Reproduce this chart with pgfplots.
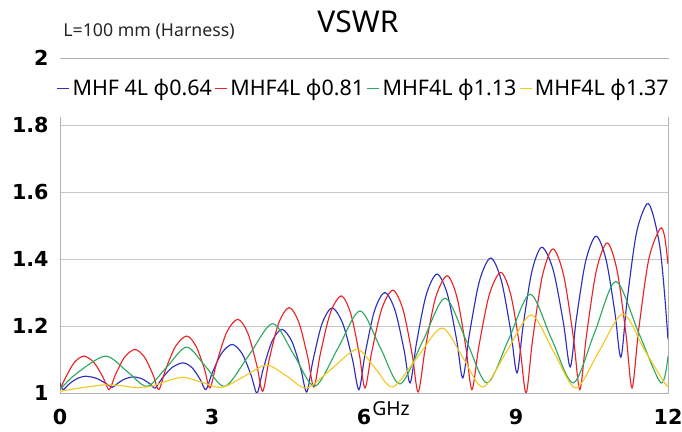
\documentclass[border=0pt]{standalone}
\usepackage{fontspec}
\setmainfont{Noto Sans}
\newfontfamily\tickfont{DejaVu Sans}
\usepackage{pgfplots}
\pgfplotsset{compat=1.18}

\definecolor{cblue}{RGB}{45,45,190}
\definecolor{cred}{RGB}{235,35,40}
\definecolor{cgreen}{RGB}{45,170,95}
\definecolor{cyellow}{RGB}{245,200,35}

\begin{document}
\begin{tikzpicture}
\path[use as bounding box] (0,0) rectangle (511.5pt,324pt);
\begin{axis}[
  at={(45pt,29.25pt)}, anchor=south west,
  scale only axis, width=456pt, height=251.25pt,
  xmin=0, xmax=12, ymin=1, ymax=2,
  xtick={0,3,6,9,12}, ytick={1,1.2,1.4,1.6,1.8,2},
  major tick length=0pt,
  ymajorgrids, grid style={gray!45, line width=0.6pt},
  axis line style={gray!60, line width=0.6pt},
  ticklabel style={font=\tickfont\bfseries\fontsize{15.5}{16}\selectfont, text=black},
  /pgf/number format/assume math mode=true,
  xticklabel style={yshift=-8.5pt},
  yticklabel style={xshift=-5pt},
  legend columns=-1,
  legend style={at={(-0.008,0.91)}, anchor=west, draw=none, fill=white,
    font=\fontsize{16.1}{16.5}\selectfont, inner ysep=13pt, inner xsep=1pt},
  legend image code/.code={\draw[#1] (0pt,0pt) -- (9pt,0pt);},
  every axis plot/.append style={line width=0.85pt, smooth},
]
\addplot[cblue] coordinates {
(0.0,1.03) (0.06,1.01) (0.166,1.025) (0.324,1.042) (0.5,1.05) (0.712,1.044) (0.903,1.029)
(1.03,1.017) (1.131,1.028) (1.282,1.042) (1.45,1.048) (1.622,1.042) (1.777,1.027)
(1.88,1.015) (2.012,1.043) (2.21,1.076) (2.43,1.09) (2.61,1.075) (2.772,1.039)
(2.88,1.01) (3.005,1.06) (3.192,1.119) (3.4,1.145) (3.596,1.117) (3.772,1.053)
(3.89,1.0) (4.008,1.07) (4.184,1.154) (4.38,1.19) (4.576,1.154) (4.752,1.072)
(4.87,1.003) (4.99,1.095) (5.17,1.206) (5.37,1.254) (5.582,1.207) (5.773,1.1)
(5.9,1.01) (6.022,1.117) (6.206,1.245) (6.41,1.3) (6.61,1.248) (6.79,1.129)
(6.91,1.03) (7.037,1.15) (7.228,1.293) (7.44,1.355) (7.644,1.296) (7.828,1.159)
(7.95,1.045) (8.082,1.177) (8.28,1.335) (8.5,1.403) (8.708,1.337) (8.895,1.186)
(9.02,1.06) (9.138,1.198) (9.314,1.363) (9.51,1.435) (9.734,1.367) (9.936,1.209)
(10.07,1.078) (10.192,1.222) (10.376,1.394) (10.58,1.468) (10.776,1.399) (10.952,1.24)
(11.07,1.107) (11.192,1.275) (11.376,1.477) (11.58,1.564) (11.7,1.535) (11.84,1.436) (11.93,1.3) (12.0,1.16)
};
\addlegendentry{MHF 4L φ0.64}
\addplot[cred] coordinates {
(0.0,1.01) (0.113,1.047) (0.282,1.091) (0.47,1.11) (0.67,1.091) (0.85,1.047)
(0.97,1.01) (1.092,1.054) (1.276,1.107) (1.48,1.13) (1.668,1.107) (1.837,1.054)
(1.95,1.01) (2.082,1.069) (2.28,1.139) (2.5,1.17) (2.684,1.14) (2.85,1.072)
(2.96,1.015) (3.092,1.09) (3.29,1.181) (3.51,1.22) (3.706,1.179) (3.882,1.084)
(4.0,1.005) (4.125,1.097) (4.312,1.207) (4.52,1.255) (4.716,1.21) (4.892,1.105)
(5.01,1.018) (5.14,1.118) (5.334,1.238) (5.55,1.29) (5.738,1.237) (5.907,1.116)
(6.02,1.015) (6.152,1.122) (6.35,1.251) (6.57,1.307) (6.77,1.249) (6.95,1.115)
(7.07,1.003) (7.207,1.131) (7.412,1.284) (7.64,1.35) (7.836,1.285) (8.012,1.135)
(8.13,1.01) (8.267,1.139) (8.472,1.293) (8.7,1.36) (8.9,1.291) (9.08,1.132)
(9.2,1.0) (9.327,1.158) (9.518,1.348) (9.73,1.43) (9.942,1.35) (10.133,1.165)
(10.26,1.01) (10.39,1.171) (10.584,1.364) (10.8,1.448) (10.996,1.365) (11.172,1.174)
(11.29,1.015) (11.422,1.19) (11.62,1.399) (11.84,1.49) (11.93,1.47) (12.0,1.385)
};
\addlegendentry{MHF4L φ0.81}
\addplot[cgreen] coordinates {
(0,1.01) (0.3,1.055) (0.89,1.11) (1.32,1.065) (1.72,1.02) (2.11,1.078) (2.5,1.137)
(2.88,1.078) (3.26,1.02) (3.73,1.113) (4.2,1.207) (4.62,1.113) (5.03,1.02)
(5.48,1.132) (5.92,1.245) (6.32,1.136) (6.71,1.027) (7.16,1.155) (7.6,1.283)
(8.02,1.156) (8.43,1.03) (8.86,1.162) (9.28,1.295) (9.7,1.162) (10.13,1.03)
(10.55,1.18) (10.97,1.333) (11.42,1.18) (11.86,1.03) (12.0,1.11)
};
\addlegendentry{MHF4L φ1.13}
\addplot[cyellow] coordinates {
(0,1.005) (0.4,1.015) (0.85,1.024) (1.2,1.022) (1.5,1.016) (1.8,1.02) (2.1,1.035)
(2.43,1.047) (2.8,1.032) (3.2,1.017) (3.64,1.05) (4.08,1.083) (4.48,1.05)
(4.87,1.015) (5.36,1.072) (5.86,1.13) (6.22,1.074) (6.57,1.018) (7.05,1.106)
(7.54,1.194) (7.95,1.106) (8.35,1.018) (8.82,1.125) (9.3,1.233) (9.74,1.124)
(10.18,1.015) (10.64,1.125) (11.11,1.236) (11.53,1.13) (11.96,1.024) (12.0,1.03)
};
\addlegendentry{MHF4L φ1.37}
\end{axis}
\node[font=\fontsize{22.5}{24}\selectfont] at (268.5pt,307.5pt) {VSWR};
\node[font=\fontsize{13.3}{14}\selectfont, text=black!85] at (111.75pt,300.5pt) {L=100 mm (Harness)};
\node[font=\fontsize{14.5}{15}\selectfont] at (293.25pt,17.5pt) {GHz};
\end{tikzpicture}
\end{document}
